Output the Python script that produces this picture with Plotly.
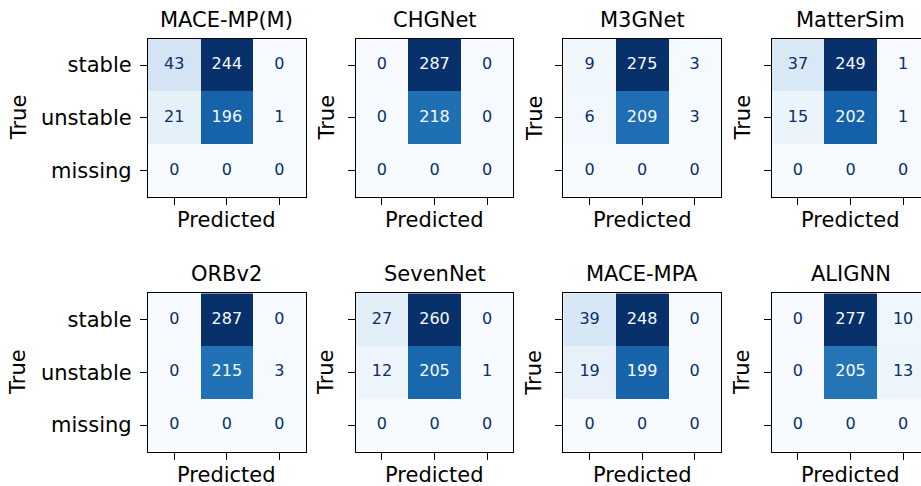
import plotly.graph_objects as go

# Confusion matrices: rows = true class, columns = predicted class
models = ["MACE-MP(M)", "CHGNet", "M3GNet", "MatterSim",
          "ORBv2", "SevenNet", "MACE-MPA", "ALIGNN"]
class_labels = ["stable", "unstable", "missing"]

mace_mp_m = [[43, 244, 0], [21, 196, 1], [0, 0, 0]]
chgnet = [[0, 287, 0], [0, 218, 0], [0, 0, 0]]
m3gnet = [[9, 275, 3], [6, 209, 3], [0, 0, 0]]
mattersim = [[37, 249, 1], [15, 202, 1], [0, 0, 0]]
orbv2 = [[0, 287, 0], [0, 215, 3], [0, 0, 0]]
sevennet = [[27, 260, 0], [12, 205, 1], [0, 0, 0]]
mace_mpa = [[39, 248, 0], [19, 199, 0], [0, 0, 0]]
alignn = [[0, 277, 10], [0, 205, 13], [0, 0, 0]]

matrices = [mace_mp_m, chgnet, m3gnet, mattersim,
            orbv2, sevennet, mace_mpa, alignn]

BLUES = ["#f7fbff", "#deebf7", "#c6dbef", "#9ecae1", "#6baed6",
         "#4292c6", "#2171b5", "#08519c", "#08306b"]
colorscale = [[i / (len(BLUES) - 1), c] for i, c in enumerate(BLUES)]

FIG_W, FIG_H = 921, 486
FONT = "DejaVu Sans"
LABEL_SIZE = 21
CELL_SIZE = 16

# panel geometry in pixels
col_left = [148.0, 355.7, 563.3, 771.7]
row_top = [38.7, 293.3]
panel_w = 157.7
panel_h = 158.2
cell = panel_w / 3


def px_x(p):
    return p / FIG_W


def px_y(p):
    return 1 - p / FIG_H


fig = go.Figure()
annotations = []

for k, (name, cm) in enumerate(zip(models, matrices)):
    r, c = divmod(k, 4)
    idx = "" if k == 0 else str(k + 1)
    xa, ya = "x" + idx, "y" + idx

    left = col_left[c]
    right = min(left + panel_w, FIG_W)
    top = row_top[r]
    bottom = top + panel_h
    x_span = (right - left) / cell

    flat = [v for row in cm for v in row]
    vmin, vmax = min(flat), max(flat)
    thresh = (vmax + vmin) / 2.0

    fig.add_trace(go.Heatmap(
        z=cm, x=[0, 1, 2], y=[0, 1, 2],
        colorscale=colorscale, zmin=vmin, zmax=vmax,
        showscale=False, hoverinfo="z",
        xaxis=xa, yaxis=ya,
    ))

    xs, ys, texts, colors = [], [], [], []
    for i in range(3):
        for j in range(3):
            v = cm[i][j]
            xs.append(j)
            ys.append(i)
            texts.append(str(v))
            colors.append(BLUES[-1] if v < thresh else BLUES[0])
    fig.add_trace(go.Scatter(
        x=xs, y=ys, text=texts, mode="text",
        textposition="middle center",
        textfont=dict(family=FONT, size=CELL_SIZE, color=colors),
        hoverinfo="skip", showlegend=False,
        xaxis=xa, yaxis=ya, cliponaxis=False,
    ))

    fig.layout["xaxis" + idx] = dict(
        domain=[px_x(left), px_x(right)],
        range=[-0.5, -0.5 + x_span],
        anchor=ya,
        tickmode="array", tickvals=[0, 1, 2], ticktext=["", "", ""],
        ticks="outside", ticklen=7, tickwidth=1.2, tickcolor="black",
        showline=True, linecolor="black", linewidth=1.2, mirror=True,
        showgrid=False, zeroline=False, fixedrange=True,
    )
    fig.layout["yaxis" + idx] = dict(
        domain=[px_y(bottom), px_y(top)],
        range=[2.5, -0.5],
        anchor=xa,
        tickmode="array", tickvals=[0, 1, 2],
        ticktext=class_labels if c == 0 else ["", "", ""],
        tickfont=dict(family=FONT, size=LABEL_SIZE, color="black"),
        ticks="outside", ticklen=7, tickwidth=1.2, tickcolor="black",
        ticklabelstandoff=4,
        showline=True, linecolor="black", linewidth=1.2,
        mirror=(c < 3),
        showgrid=False, zeroline=False, fixedrange=True,
    )

    # panel title
    annotations.append(dict(
        text=name, xref="paper", yref="paper",
        x=px_x(left + panel_w / 2), y=px_y(top - 19),
        xanchor="center", yanchor="middle", showarrow=False,
        font=dict(family=FONT, size=LABEL_SIZE, color="black"),
    ))
    # x-axis title
    annotations.append(dict(
        text="Predicted", xref="paper", yref="paper",
        x=px_x(left + panel_w / 2), y=px_y(bottom + 23),
        xanchor="center", yanchor="middle", showarrow=False,
        font=dict(family=FONT, size=LABEL_SIZE, color="black"),
    ))
    # y-axis title
    true_x = 18.5 if c == 0 else left - 29
    annotations.append(dict(
        text="True", xref="paper", yref="paper",
        x=px_x(true_x), y=px_y(top + panel_h / 2),
        xanchor="center", yanchor="middle", showarrow=False,
        textangle=-90,
        font=dict(family=FONT, size=LABEL_SIZE, color="black"),
    ))

fig.update_layout(
    width=FIG_W, height=FIG_H,
    margin=dict(l=0, r=0, t=0, b=0),
    paper_bgcolor="white", plot_bgcolor="white",
    showlegend=False,
    annotations=annotations,
    font=dict(family=FONT, color="black"),
)

fig.write_html("out.html")
